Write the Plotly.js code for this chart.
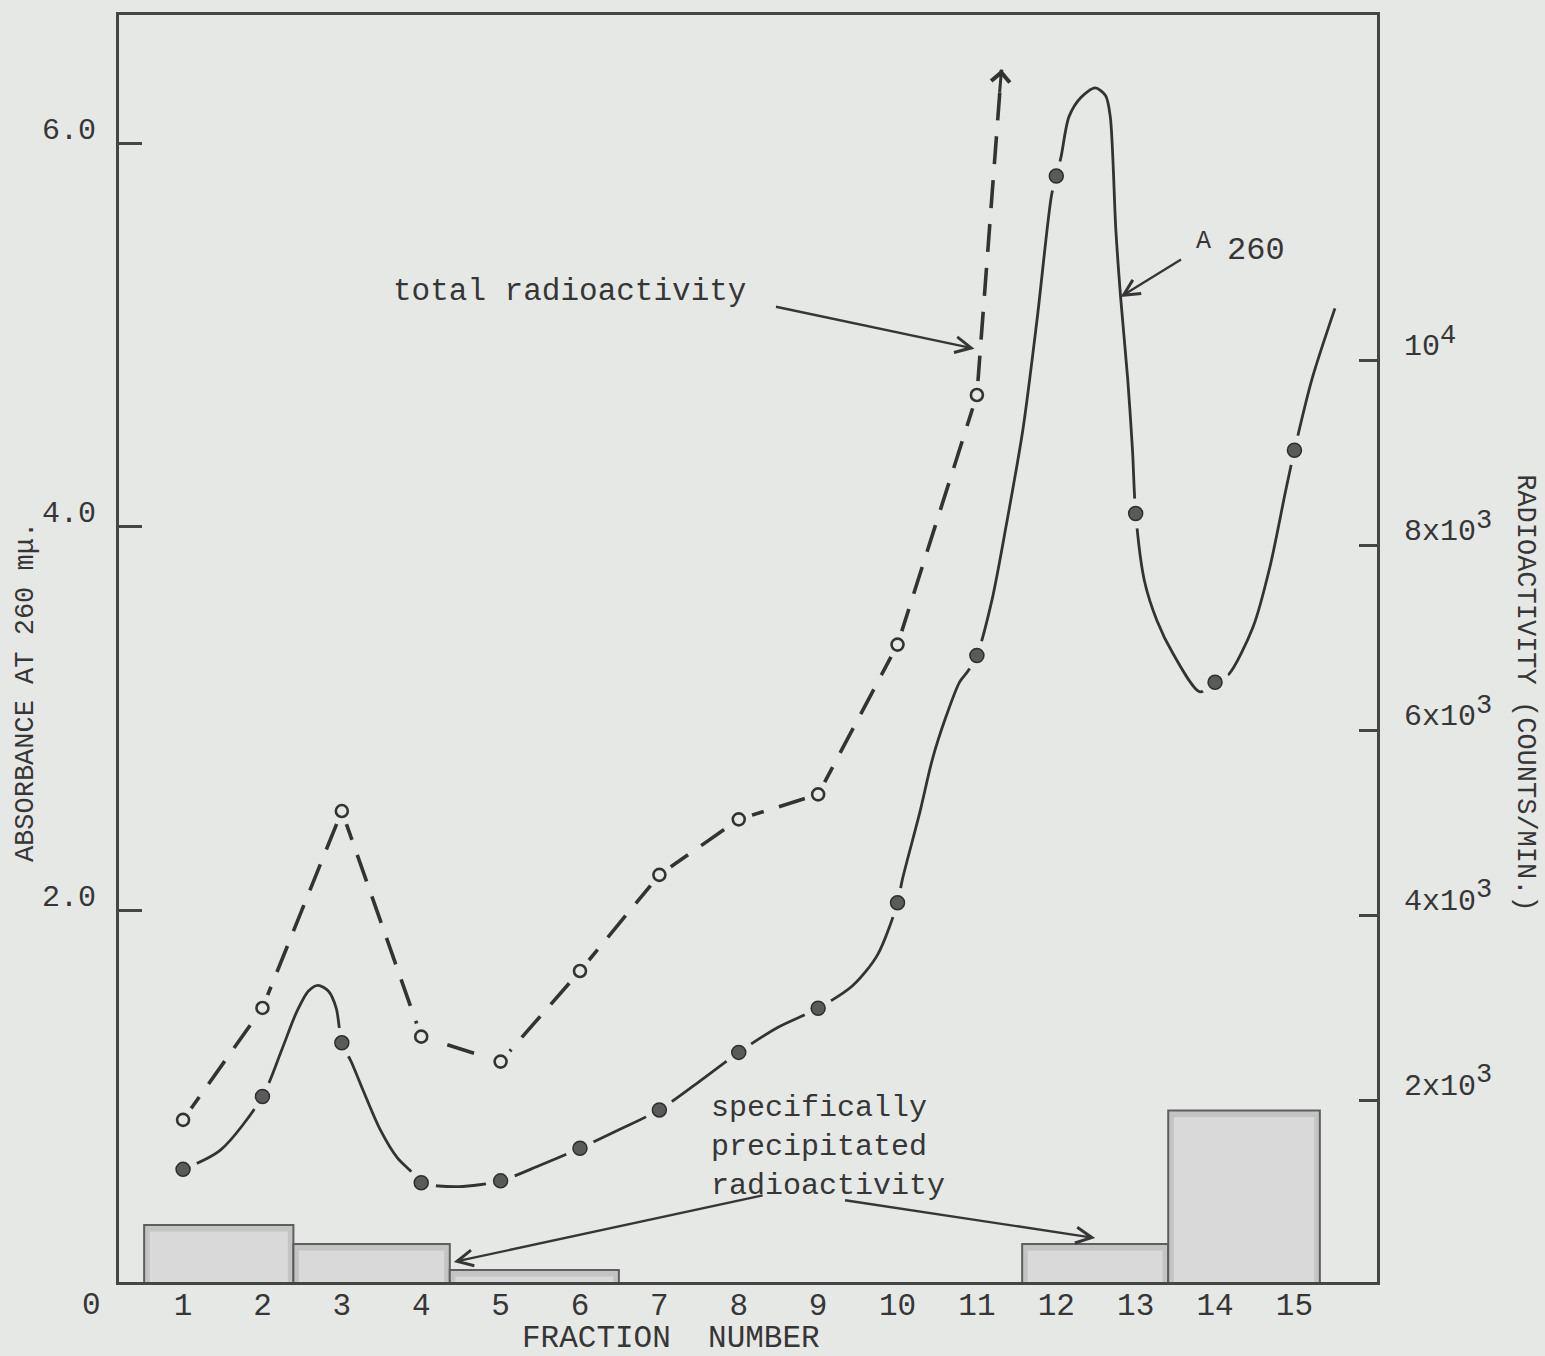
<!DOCTYPE html>
<html>
<head>
<meta charset="utf-8">
<script src="https://cdn.plot.ly/plotly-3.0.1.min.js"></script>
<style>
  html, body { margin: 0; padding: 0; background: #e6e8e6; }
  #chart { width: 1545px; height: 1356px; }
</style>
</head>
<body>
<div id="chart"></div>
<script>
// Fraction numbers of the column eluate
const fractions = [1, 2, 3, 4, 5, 6, 7, 8, 9, 10, 11, 12, 13, 14, 15];
const fractionLabels = ['1', '2', '3', '4', '5', '6', '7', '8', '9', '10', '11', '12', '13', '14', '15'];

// Absorbance at 260 mμ (filled circles, left axis)
const a260 = [0.65, 1.03, 1.31, 0.58, 0.59, 0.76, 0.96, 1.26, 1.49, 2.04, 3.33, 5.83, 4.07, 3.19, 4.40];

// Hand-drawn A260 curve through the measurements
const a260CurveX = [1, 1.47, 2, 2.24, 2.43, 2.58, 2.70, 2.83, 2.93, 3, 3.12, 3.27, 3.48, 3.70, 3.87, 4, 4.47, 5, 5.49, 6,
  6.51, 7, 7.51, 8, 8.49, 9, 9.44, 9.75, 10, 10.06, 10.28, 10.44, 10.61, 10.78, 10.89, 11, 11.19, 11.37, 11.58, 11.76, 11.94, 12,
  12.06, 12.16, 12.31, 12.49, 12.62, 12.68, 12.75, 12.81, 12.90, 12.96, 13, 13.11, 13.27, 13.47, 13.81, 14, 14.17,
  14.48, 14.69, 14.89, 15, 15.22, 15.51];
const a260CurveY = [0.65, 0.75, 1.03, 1.27, 1.47, 1.58, 1.61, 1.58, 1.49, 1.31, 1.21, 1.06, 0.86, 0.71, 0.64, 0.58, 0.56, 0.59, 0.67, 0.76,
  0.86, 0.96, 1.11, 1.26, 1.39, 1.49, 1.61, 1.77, 2.04, 2.16, 2.51, 2.79, 3.01, 3.19, 3.25, 3.33, 3.62, 4.01, 4.51, 5.09, 5.73, 5.83,
  5.93, 6.14, 6.24, 6.29, 6.25, 6.14, 5.55, 5.20, 4.77, 4.40, 4.07, 3.72, 3.51, 3.34, 3.14, 3.19, 3.23,
  3.48, 3.79, 4.19, 4.40, 4.77, 5.14];

// Total radioactivity, counts/min (open circles, right axis), fractions 1-11
const totalFractions = [1, 2, 3, 4, 5, 6, 7, 8, 9, 10, 11];
const totalCounts = [1790, 3000, 5130, 2690, 2420, 3400, 4440, 5040, 5310, 6930, 9630];
// Beyond fraction 11 the total count runs off scale
const offScaleX = [11, 11.31];
const offScaleCounts = [9630, 13150];

// Specifically precipitated radioactivity, pooled fractions (right axis)
const poolStart = [0.51, 2.39, 4.36, 11.57, 13.41];
const poolEnd = [2.39, 4.36, 6.49, 13.41, 15.32];
const precipCounts = [652, 447, 165, 447, 1890];

// Axis tick labels
const leftTicks = [2, 4, 6];
const leftTickText = ['2.0', '4.0', '6.0'];
const rightTicks = [2000, 4000, 6000, 8000, 10000];
const sup = d => '<sup><span style="font-size:27px">' + d + '</span></sup>';
const rightTickText = ['2x10' + sup(3), '4x10' + sup(3), '6x10' + sup(3), '8x10' + sup(3), '10' + sup(4)];

const labelLines = ['specifically', 'precipitated', 'radioactivity'];

const PAPER = '#e6e8e6';
const INK = '#363636';
const TYPE = "'Liberation Mono', 'Courier New', monospace";

const poolMid = poolStart.map((s, i) => (s + poolEnd[i]) / 2);
const poolWidth = poolStart.map((s, i) => poolEnd[i] - s);
// lighter core of each shaded block
const coreWidth = poolWidth.map(w => w - 0.14);
const coreHeight = precipCounts.map(c => c - 70);

const traces = [
  {
    type: 'bar', x: poolMid, y: precipCounts, width: poolWidth, base: 0,
    yaxis: 'y2', marker: { color: '#c3c4c3', line: { color: '#5e5e5e', width: 2 } },
    hoverinfo: 'skip'
  },
  {
    type: 'bar', x: poolMid, y: coreHeight, width: coreWidth, base: 0,
    yaxis: 'y2', marker: { color: '#d8d9d8', line: { width: 0 } },
    hoverinfo: 'skip'
  },
  {
    type: 'scatter', mode: 'lines', x: a260CurveX, y: a260CurveY,
    line: { color: '#333', width: 2.8, shape: 'spline', smoothing: 0.8 }, hoverinfo: 'skip'
  },
  {
    type: 'scatter', mode: 'lines', x: totalFractions.concat(offScaleX.slice(1)),
    y: totalCounts.concat(offScaleCounts.slice(1)), yaxis: 'y2',
    line: { color: '#333', width: 3.6, dash: '28px,16px' }, hoverinfo: 'skip'
  },
  // paper-coloured rings leave the drafting gap round each point
  {
    type: 'scatter', mode: 'markers', x: fractions, y: a260,
    marker: { size: 30, color: PAPER, line: { width: 0 } }, hoverinfo: 'skip'
  },
  {
    type: 'scatter', mode: 'markers', x: totalFractions, y: totalCounts, yaxis: 'y2',
    marker: { size: 28, color: PAPER, line: { width: 0 } }, hoverinfo: 'skip'
  },
  {
    type: 'scatter', mode: 'markers', x: fractions, y: a260, name: 'A260',
    marker: { size: 14, color: '#5a5a5a', line: { color: '#2e2e2e', width: 1.5 } }
  },
  {
    type: 'scatter', mode: 'markers', x: totalFractions, y: totalCounts, yaxis: 'y2', name: 'total radioactivity',
    marker: { size: 12, color: PAPER, line: { color: '#333', width: 2.6 } }
  }
];

const annotations = [
  // axis titles
  { xref: 'paper', yref: 'paper', x: -0.0740, y: 0.4655, xanchor: 'center', yanchor: 'middle',
    text: 'ABSORBANCE AT 260 mμ.', textangle: -90,
    showarrow: false, font: { family: TYPE, size: 27, color: INK } },
  { xref: 'paper', yref: 'paper', x: 1.1177, y: 0.4655, xanchor: 'center', yanchor: 'middle',
    text: 'RADIOACTIVITY (COUNTS/MIN.)', textangle: 90,
    showarrow: false, font: { family: TYPE, size: 27, color: INK } },
  { xref: 'paper', yref: 'paper', x: 0.4388, y: -0.0442, xanchor: 'center', yanchor: 'middle',
    text: 'FRACTION\u00a0\u00a0NUMBER',
    showarrow: false, font: { family: TYPE, size: 31, color: INK } },
  { xref: 'paper', yref: 'paper', x: -0.0215, y: -0.0182, xanchor: 'center', yanchor: 'middle', text: '0',
    showarrow: false, font: { family: TYPE, size: 31, color: INK } },
  // curve labels
  { x: 3.62, y: 5.23, xanchor: 'left', yanchor: 'middle', text: 'total radioactivity',
    showarrow: false, font: { family: TYPE, size: 31, color: INK } },
  { x: 13.74, y: 5.49, xanchor: 'left', yanchor: 'middle', text: 'A',
    showarrow: false, font: { family: TYPE, size: 25, color: INK } },
  { x: 14.12, y: 5.44, xanchor: 'left', yanchor: 'middle', text: '260',
    showarrow: false, font: { family: TYPE, size: 32, color: INK } },
  { x: 7.63, y: 0.767, xanchor: 'left', yanchor: 'middle', align: 'left', text: labelLines.join('<br>'),
    showarrow: false, font: { family: TYPE, size: 30, color: INK } },
  // pointer arrows
  { x: 10.97, y: 4.93, ax: 8.45, ay: 5.15, axref: 'x', ayref: 'y', text: '', showarrow: true,
    arrowhead: 5, arrowsize: 1.3, arrowwidth: 2.4, arrowcolor: INK },
  { x: 12.81, y: 5.20, ax: 13.59, ay: 5.40, axref: 'x', ayref: 'y', text: '', showarrow: true,
    arrowhead: 5, arrowsize: 1.3, arrowwidth: 2.4, arrowcolor: INK },
  { x: 4.41, y: 0.167, ax: 8.32, ay: 0.516, axref: 'x', ayref: 'y', text: '', showarrow: true,
    arrowhead: 5, arrowsize: 1.3, arrowwidth: 2.4, arrowcolor: INK },
  { x: 12.49, y: 0.292, ax: 9.32, ay: 0.49, axref: 'x', ayref: 'y', text: '', showarrow: true,
    arrowhead: 5, arrowsize: 1.3, arrowwidth: 2.4, arrowcolor: INK },
  // head of the off-scale total radioactivity line
  { x: offScaleX[1], y: offScaleCounts[1], yref: 'y2', ax: -2, ay: 24, text: '', showarrow: true,
    arrowhead: 4, arrowsize: 1.2, arrowwidth: 3, arrowcolor: '#333' }
];

const layout = {
  width: 1545, height: 1356,
  margin: { l: 119, r: 168, t: 15, b: 74 },
  paper_bgcolor: PAPER, plot_bgcolor: PAPER,
  showlegend: false, barmode: 'overlay',
  font: { family: TYPE, color: INK },
  xaxis: {
    range: [0.193, 16.04], showgrid: false, zeroline: false,
    showline: true, mirror: true, linecolor: '#454545', linewidth: 3,
    ticks: '', tickvals: fractions, ticktext: fractionLabels,
    tickfont: { family: TYPE, size: 31, color: INK }, ticklabelstandoff: -7
  },
  yaxis: {
    range: [0.0626, 6.670], showgrid: false, zeroline: false,
    showline: true, mirror: true, linecolor: '#454545', linewidth: 3,
    ticks: 'inside', ticklen: 23, tickwidth: 3, tickcolor: '#454545',
    tickvals: leftTicks, ticktext: leftTickText,
    tickfont: { family: TYPE, size: 30, color: INK }, ticklabelstandoff: 14, ticklabelshift: -15
  },
  yaxis2: {
    overlaying: 'y', side: 'right', range: [36, 13740],
    showgrid: false, zeroline: false, showline: true, linecolor: '#454545', linewidth: 3,
    ticks: 'inside', ticklen: 18, tickwidth: 3, tickcolor: '#454545',
    tickvals: rightTicks, ticktext: rightTickText,
    tickfont: { family: TYPE, size: 30, color: INK }, ticklabelstandoff: 18, ticklabelshift: -16
  },
  annotations: annotations
};

Plotly.newPlot('chart', traces, layout, { staticPlot: true, displayModeBar: false });
</script>
</body>
</html>
